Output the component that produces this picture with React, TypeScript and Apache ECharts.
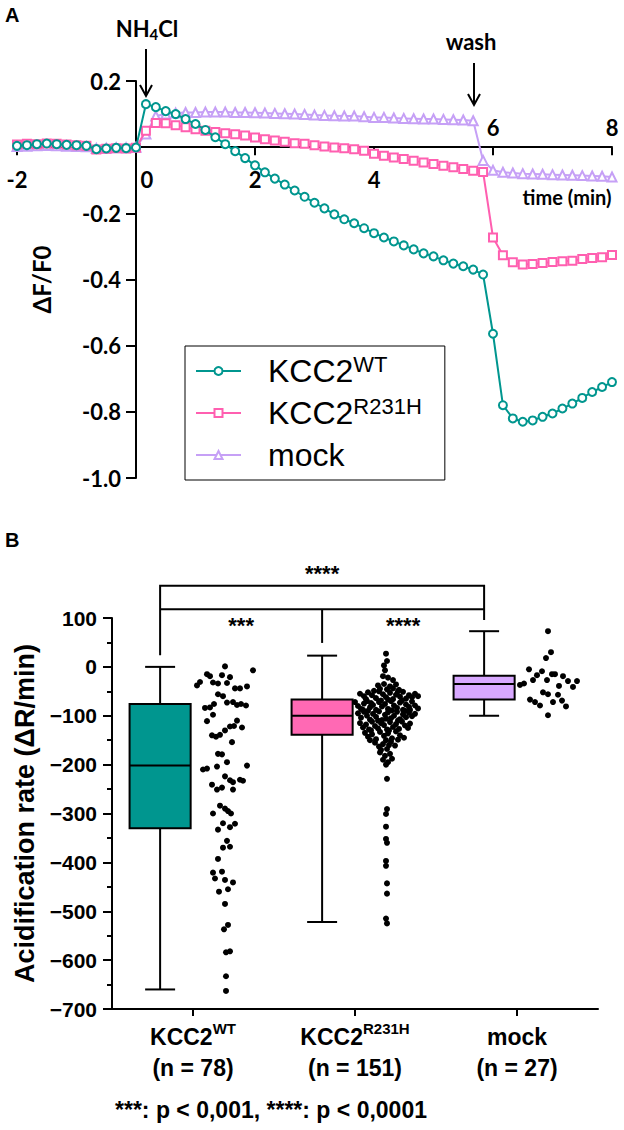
import React, { useEffect, useRef } from "react";
import * as echarts from "echarts";

// ---------------- Panel A data ----------------
const timeSeconds = [-120, -110, -100, -90, -80, -70, -60, -50, -40, -30, -20, -10, 0, 10, 20, 30, 40, 50, 60, 70, 80, 90, 100, 110, 120, 130, 140, 150, 160, 170, 180, 190, 200, 210, 220, 230, 240, 250, 260, 270, 280, 290, 300, 310, 320, 330, 340, 350, 360, 370, 380, 390, 400, 410, 420, 430, 440, 450, 460, 470, 480];

const wtTrace = [0.004, 0.006, 0.009, 0.011, 0.009, 0.007, 0.006, 0.004, -0.006, -0.004, -0.002, -0.003,
  -0.001,
  0.13, 0.121, 0.109, 0.10, 0.085, 0.07, 0.052, 0.03, 0.009, -0.012, -0.033, -0.055, -0.076, -0.095, -0.113, -0.131, -0.15, -0.168, -0.185, -0.203, -0.218, -0.23, -0.245, -0.26, -0.273, -0.285, -0.297, -0.309, -0.321, -0.33, -0.342, -0.352, -0.36, -0.37, -0.385,
  -0.564, -0.78, -0.82, -0.83, -0.826, -0.815, -0.805, -0.79, -0.775, -0.758, -0.74, -0.725, -0.71];

const r231hTrace = [0.008, 0.01, 0.009, 0.011, 0.01, 0.008, 0.006, 0.004, -0.007, -0.005, -0.003, -0.004,
  -0.002,
  0.05, 0.073, 0.072, 0.066, 0.06, 0.054, 0.05, 0.046, 0.042, 0.039, 0.035, 0.029, 0.024, 0.02, 0.016, 0.012, 0.01, 0.006, 0.002, -0.001, -0.003, -0.006, -0.011, -0.02, -0.026, -0.031, -0.036, -0.041, -0.046, -0.051, -0.056, -0.061, -0.066, -0.071, -0.075,
  -0.273, -0.327, -0.348, -0.355, -0.353, -0.35, -0.347, -0.345, -0.343, -0.338, -0.335, -0.333, -0.326];

const mockTrace = [0.002, 0.003, 0.004, 0.005, 0.004, 0.003, 0.002, 0.001, -0.004, -0.003, -0.002, -0.002,
  0,
  0.04, 0.094, 0.1, 0.103, 0.105, 0.105, 0.106, 0.106, 0.106, 0.105, 0.105, 0.104, 0.103, 0.102, 0.101, 0.1, 0.099, 0.097, 0.096, 0.095, 0.094, 0.094, 0.092, 0.09, 0.09, 0.088, 0.087, 0.086, 0.085, 0.085, 0.084, 0.083, 0.082, 0.08,
  -0.04,
  -0.07, -0.076, -0.078, -0.08, -0.081, -0.082, -0.083, -0.084, -0.085, -0.086, -0.087, -0.088, -0.09];

const seriesNames = ["KCC2WT", "KCC2R231H", "mock"];

// ---------------- Panel B data ----------------
const groupNames = ["KCC2WT", "KCC2R231H", "mock"];
const groupN = [78, 151, 27];
// [whisker low, Q1, median, Q3, whisker high]
const wtBox = [-660, -330, -202, -76, 0];
const r231hBox = [-522, -139, -100, -67, 23];
const mockBox = [-100, -67, -35, -18, 73];

const wtDotValues = [1, -7, -15, -19, -17, -21, -31, -32, -34, -33, -44, -44, -40, -38, -56, -60, -84, -83, -76, -73, -72, -78, -76, -79, -111, -122, -121, -110, -124, -130, -140, -143, -139, -154, -178, -179, -195, -210, -208, -204, -202, -224, -232, -236, -231, -233, -241, -251, -247, -251, -284, -290, -295, -300, -300, -320, -321, -328, -333, -356, -370, -368, -393, -421, -419, -433, -436, -441, -455, -485, -528, -537, -584, -633, -663, -460, -582, -98];
const wtDotSpread = [32, 60, 14, 17, 29, 37, 7, 20, 25, 34, 42, 47, 54, 4, 25, 30, 12, 17, 21, 34, 40, 44, 48, 53, 14, 37, 41, 44, 49, 32, 19, 23, 27, 39, 25, 29, 34, 10, 14, 24, 54, 32, 37, 40, 47, 50, 19, 24, 29, 40, 27, 32, 35, 38, 20, 30, 42, 37, 25, 34, 30, 37, 25, 20, 29, 22, 32, 40, 35, 32, 35, 31, 33, 33, 33, 26, 37, 20];

const r231hDotValues = [27, 12, 3, -7, -19, -22, -27, -38, -35, -40, -36, -45, -46, -44, -47,
  -55, -60, -52, -58, -64, -50, -56, -62, -53, -66, -57, -61, -51, -65, -58, -62, -55, -60, -66, -49, -50, -67,
  -72, -80, -86, -75, -70, -83, -78, -88, -72, -81, -76, -86, -70, -79, -84, -73, -88, -77, -82, -71, -79, -85, -88, -69, -89, -69, -88, -74,
  -95, -104, -92, -100, -108, -96, -102, -91, -109, -98, -93, -105, -100, -92, -107, -97, -103, -94, -101, -96, -90, -106, -110, -110, -90,
  -115, -124, -118, -128, -112, -121, -126, -115, -119, -128, -113, -123, -117, -127, -112, -120, -125, -116, -130, -130,
  -135, -143, -138, -148, -133, -141, -136, -146, -132, -140, -145, -150, -150, -149,
  -155, -163, -158, -168, -153, -161, -170, -160,
  -175, -182, -178, -190, -195, -188, -200,
  -229, -291, -301, -327, -352, -360, -397, -407, -443, -464, -515, -525];
const r231hDotSpread = [31, 32, 29, 30, 28, 33, 38, 23, 29, 35, 41, 25, 32, 38, 44,
  5, 9, 13, 17, 21, 24, 28, 31, 35, 38, 41, 45, 48, 51, 54, 57, 60, 63, 11, 19, 43, 33,
  0, 3, 6, 9, 12, 15, 18, 21, 24, 27, 30, 33, 36, 39, 42, 45, 48, 51, 54, 57, 60, 63, 8, 26, 37, 47, 55, 16,
  3, 6, 9, 12, 15, 18, 21, 24, 27, 30, 33, 36, 39, 42, 45, 48, 51, 54, 57, 60, 13, 31, 43, 23, 50,
  5, 8, 11, 14, 17, 20, 23, 26, 29, 32, 35, 38, 41, 44, 47, 50, 53, 55, 16, 34,
  10, 13, 17, 21, 25, 29, 33, 37, 41, 45, 49, 15, 31, 43,
  20, 24, 28, 32, 36, 40, 26, 34,
  25, 30, 35, 28, 33, 37, 31,
  32, 32, 31, 31, 31, 32, 31, 31, 32, 32, 31, 32];

const mockDotValues = [73, 30, 18, -5, -9, -17, -27, -27, -15, -15, -19, -29, -29, -37, -34, -39, -41, -52, -56, -57, -67, -72, -72, -79, -69, -81, -99];
const mockDotSpread = [31, 34, 29, 12, 25, 20, 16, 30, 35, 38, 46, 51, 60, 3, 7, 42, 56, 26, 31, 41, 13, 18, 36, 23, 45, 49, 31];

// significance brackets (data units of the acidification-rate axis)
const bracketLevels = [166, 118];
const bracketLegEnds = [24, 49, 96];
const sigMarks = ["****", "***", "****"];
const sigMarkLevels = [192, 84, 84];

// ---------------- layout / styling constants ----------------
const A_LEFT = 17, A_TOP = 81, A_W = 595, A_H = 397;
const X_MIN = -2, X_MAX = 8, Y_MIN = -1, Y_MAX = 0.2;
const X0_PX = A_LEFT + (A_W * (0 - X_MIN)) / (X_MAX - X_MIN); // where time 0 sits
const Y0_PX = A_TOP + (A_H * (Y_MAX - 0)) / (Y_MAX - Y_MIN); // where ΔF/F0 = 0 sits

const TEAL = "#00968f";
const PINK = "#ff5fb0";
const LAV = "#c6a0f6";
const BOX_COLORS = ["#00968f", "#ff69b4", "#d8a8ff"];
const BAND_PX = 162; // spread values are in px of one category band
const BOX_SHIFT = -0.203;
const BOX_WIDTH = 0.377;
const CAP_WIDTH = 0.185;

const latoBold = { fontFamily: "Lato", fontWeight: "bold" as const, color: "#000" };
const arialBold = { fontFamily: "Liberation Sans", fontWeight: "bold" as const, color: "#000" };
const blackLine = { color: "#000", width: 2 };
const hiddenAxis = (gridIndex: number) => ({
  gridIndex, type: "value", min: 0, max: 1, show: false,
  axisLine: { show: false, onZero: false }, axisTick: { show: false }, axisLabel: { show: false }, splitLine: { show: false },
});

function App() {
  const ref = useRef<HTMLDivElement>(null);

  useEffect(() => {
    document.body.style.margin = "0";
    if (!ref.current) return;
    const chart = echarts.init(ref.current, undefined, { renderer: "svg" });

    const toMin = (s: number) => s / 60;
    const lineData = (tr: number[]) => timeSeconds.map((s, i) => [toMin(s), tr[i]]);
    const dots = (vals: number[], spread: number[], gi: number) =>
      vals.map((v, i) => [gi + spread[i] / BAND_PX, v]);
    const boxes = [wtBox, r231hBox, mockBox];

    const option: any = {
      animation: false,
      backgroundColor: "#fff",
      grid: [
        // 0: panel A data
        { left: A_LEFT, top: A_TOP, width: A_W, height: A_H, containLabel: false, outerBoundsMode: "none" },
        // 1: panel A y-axis (crossing at time 0)
        { left: X0_PX, top: A_TOP, width: 10, height: A_H, containLabel: false, outerBoundsMode: "none" },
        // 2: panel A x-axis (crossing at ΔF/F0 = 0)
        { left: A_LEFT, top: A_TOP, width: A_W, height: Y0_PX - A_TOP, containLabel: false, outerBoundsMode: "none" },
        // 3: panel B
        { left: 112, top: 618, width: 486, height: 391, containLabel: false, outerBoundsMode: "none" },
      ],
      legend: {
        data: seriesNames,
        orient: "vertical",
        left: 185,
        top: 346,
        padding: [7, 23, 7, 10],
        itemWidth: 45,
        itemHeight: 10,
        itemGap: 6,
        borderColor: "#000",
        borderWidth: 1,
        selectedMode: false,
        formatter: (name: string) =>
          name === "KCC2WT" ? "{m|KCC2}{s|WT}" : name === "KCC2R231H" ? "{m|KCC2}{s|R231H}" : "{m|mock}",
        textStyle: {
          fontFamily: "Liberation Sans",
          fontSize: 32,
          color: "#000",
          lineHeight: 36,
          rich: {
            m: { fontFamily: "Liberation Sans", fontSize: 32, lineHeight: 36, color: "#000", padding: [0, 0, 0, 22] },
            s: { fontFamily: "Liberation Sans", fontSize: 22, lineHeight: 22, verticalAlign: "top", color: "#000" },
          },
        },
      },
      xAxis: [
        // 0: data x axis of panel A (hidden)
        { gridIndex: 0, type: "value", min: X_MIN, max: X_MAX, show: false, axisLine: { show: false, onZero: false }, splitLine: { show: false } },
        // 1: hidden, grid 1
        hiddenAxis(1),
        // 2: visible time axis, labels below
        {
          gridIndex: 2, type: "value", position: "bottom", min: X_MIN, max: X_MAX, interval: 2,
          axisLine: { show: true, onZero: false, lineStyle: blackLine },
          axisTick: { show: true, length: 8, lineStyle: blackLine },
          axisLabel: {
            ...latoBold, fontSize: 22, margin: 21,
            formatter: (v: number) => (v >= 6 ? "" : v === 0 ? "{z|0}" : String(v)),
            rich: { z: { ...latoBold, fontSize: 22, padding: [0, 0, 0, 22] } },
          },
          splitLine: { show: false },
        },
        // 3: time axis labels drawn above the line (6, 8)
        {
          gridIndex: 2, type: "value", position: "bottom", min: X_MIN, max: X_MAX, interval: 2,
          axisLine: { show: false, onZero: false },
          axisTick: { show: false },
          axisLabel: { ...latoBold, fontSize: 22, inside: true, margin: 9, formatter: (v: number) => (v >= 6 ? String(v) : "") },
          splitLine: { show: false },
        },
        // 4: panel B value x axis (hidden, positions marks)
        { gridIndex: 3, type: "value", min: -0.5, max: 2.5, show: false, axisLine: { show: false, onZero: false }, splitLine: { show: false } },
        // 5: panel B category axis
        {
          gridIndex: 3, type: "category", position: "bottom", data: groupNames, boundaryGap: true,
          axisLine: { show: true, onZero: false, lineStyle: blackLine },
          axisTick: { show: true, alignWithLabel: true, length: 7, lineStyle: blackLine },
          axisLabel: {
            ...arialBold, fontSize: 23, margin: 12, interval: 0,
            formatter: (name: string, idx: number) => {
              const n = groupN[idx];
              if (name === "KCC2WT") return `{b|KCC2}{s|WT}\n{b|(n = ${n})}`;
              if (name === "KCC2R231H") return `{b|KCC2}{s|R231H}\n{b|(n = ${n})}`;
              return `{b|${name}}\n{b|(n = ${n})}`;
            },
            rich: {
              b: { ...arialBold, fontSize: 23, lineHeight: 31 },
              s: { ...arialBold, fontSize: 15, lineHeight: 24, verticalAlign: "top" },
            },
          },
          splitLine: { show: false },
        },
      ],
      yAxis: [
        // 0: data y axis of panel A (hidden)
        { gridIndex: 0, type: "value", min: Y_MIN, max: Y_MAX, show: false, axisLine: { show: false, onZero: false }, splitLine: { show: false } },
        // 1: visible ΔF/F0 axis at time 0
        {
          gridIndex: 1, type: "value", position: "left", min: Y_MIN, max: Y_MAX, interval: 0.2,
          axisLine: { show: true, onZero: false, lineStyle: blackLine },
          axisTick: { show: true, length: 10, lineStyle: blackLine },
          axisLabel: {
            ...latoBold, fontSize: 22, margin: 15,
            formatter: (v: number) => (Math.abs(v) < 1e-6 ? "" : v.toFixed(1)),
          },
          splitLine: { show: false },
          name: "ΔF/F0", nameLocation: "middle", nameGap: 83,
          nameTextStyle: { ...latoBold, fontSize: 24 },
        },
        // 2: hidden, grid 2
        hiddenAxis(2),
        // 3: panel B y axis
        {
          gridIndex: 3, type: "value", min: -700, max: 100, interval: 100,
          axisLine: { show: true, onZero: false, lineStyle: blackLine },
          axisTick: { show: true, length: 9, lineStyle: blackLine },
          minorTick: { show: true, splitNumber: 2, length: 5, lineStyle: blackLine },
          axisLabel: {
            ...arialBold, fontSize: 21, margin: 15,
            formatter: (v: number) => (v < 0 ? "\u2212" + Math.abs(v) : String(v)),
          },
          splitLine: { show: false },
          minorSplitLine: { show: false },
          name: "Acidification rate (ΔR/min)", nameLocation: "middle", nameGap: 74,
          nameTextStyle: { ...arialBold, fontSize: 27 },
        },
      ],
      series: [
        {
          name: "mock", type: "line", xAxisIndex: 0, yAxisIndex: 0, data: lineData(mockTrace),
          symbol: "emptyTriangle", symbolSize: 9, lineStyle: { color: LAV, width: 2 },
          itemStyle: { color: LAV, borderWidth: 2 }, z: 3,
        },
        {
          name: "KCC2R231H", type: "line", xAxisIndex: 0, yAxisIndex: 0, data: lineData(r231hTrace),
          symbol: "emptyRect", symbolSize: 8, lineStyle: { color: PINK, width: 2 },
          itemStyle: { color: PINK, borderWidth: 2 }, z: 4,
        },
        {
          name: "KCC2WT", type: "line", xAxisIndex: 0, yAxisIndex: 0, data: lineData(wtTrace),
          symbol: "emptyCircle", symbolSize: 8, lineStyle: { color: TEAL, width: 2 },
          itemStyle: { color: TEAL, borderWidth: 2 }, z: 5,
        },
        {
          type: "custom", xAxisIndex: 4, yAxisIndex: 3, clip: false,
          data: boxes.map((b, i) => ({ value: [i + BOX_SHIFT, ...b], itemStyle: { color: BOX_COLORS[i] } })),
          encode: { x: 0, y: [1, 2, 3, 4, 5] },
          renderItem: (params: any, api: any) => {
            const x = api.value(0);
            const p = (v: number) => api.coord([x, v]);
            const lo = p(api.value(1)), q1 = p(api.value(2)), md = p(api.value(3)), q3 = p(api.value(4)), hi = p(api.value(5));
            const half = api.size([BOX_WIDTH, 0])[0] / 2;
            const cap = api.size([CAP_WIDTH, 0])[0] / 2;
            const cx = lo[0];
            const st = { stroke: "#000", lineWidth: 2 };
            return {
              type: "group",
              children: [
                { type: "line", shape: { x1: cx, y1: q3[1], x2: cx, y2: hi[1] }, style: st },
                { type: "line", shape: { x1: cx - cap, y1: hi[1], x2: cx + cap, y2: hi[1] }, style: st },
                { type: "line", shape: { x1: cx, y1: q1[1], x2: cx, y2: lo[1] }, style: st },
                { type: "line", shape: { x1: cx - cap, y1: lo[1], x2: cx + cap, y2: lo[1] }, style: st },
                { type: "rect", shape: { x: cx - half, y: q3[1], width: 2 * half, height: q1[1] - q3[1] }, style: { fill: api.visual("color"), stroke: "#000", lineWidth: 2 } },
                { type: "line", shape: { x1: cx - half, y1: md[1], x2: cx + half, y2: md[1] }, style: st },
              ],
            };
          },
        },
        { type: "scatter", xAxisIndex: 4, yAxisIndex: 3, symbolSize: 6, itemStyle: { color: "#000", opacity: 1 }, data: dots(wtDotValues, wtDotSpread, 0) },
        { type: "scatter", xAxisIndex: 4, yAxisIndex: 3, symbolSize: 6, itemStyle: { color: "#000", opacity: 1 }, data: dots(r231hDotValues, r231hDotSpread, 1) },
        { type: "scatter", xAxisIndex: 4, yAxisIndex: 3, symbolSize: 6, itemStyle: { color: "#000", opacity: 1 }, data: dots(mockDotValues, mockDotSpread, 2) },
        {
          type: "custom", xAxisIndex: 4, yAxisIndex: 3, clip: false, silent: true,
          data: [[0, 0]], encode: { x: 0, y: 1 },
          renderItem: (params: any, api: any) => {
            const xs = [0, 1, 2].map((i) => i + BOX_SHIFT);
            const c = (x: number, y: number) => api.coord([x, y]);
            const st = { stroke: "#000", lineWidth: 2, fill: "none" };
            const top = [c(xs[0], bracketLegEnds[0]), c(xs[0], bracketLevels[0]), c(xs[2], bracketLevels[0]), c(xs[2], bracketLegEnds[2])];
            const low0 = c(xs[0], bracketLevels[1]);
            const low2 = c(xs[2], bracketLevels[1]);
            const mid1 = c(xs[1], bracketLevels[1]);
            const mid1b = c(xs[1], bracketLegEnds[1]);
            const markPos = [
              c((xs[0] + xs[2]) / 2, sigMarkLevels[0]),
              c((xs[0] + xs[1]) / 2, sigMarkLevels[1]),
              c((xs[1] + xs[2]) / 2, sigMarkLevels[2]),
            ];
            return {
              type: "group",
              children: [
                { type: "polyline", shape: { points: top }, style: st },
                { type: "line", shape: { x1: low0[0], y1: low0[1], x2: low2[0], y2: low2[1] }, style: st },
                { type: "line", shape: { x1: mid1[0], y1: mid1[1], x2: mid1b[0], y2: mid1b[1] }, style: st },
                ...markPos.map((m, i) => ({
                  type: "text", x: m[0], y: m[1],
                  style: { text: sigMarks[i], textAlign: "center", textVerticalAlign: "middle", fontFamily: "Liberation Sans", fontWeight: "bold", fontSize: 22, fill: "#000" },
                })),
              ],
            };
          },
        },
      ],
      graphic: [
        { type: "text", left: 5, top: 5, style: { text: "A", fontFamily: "Liberation Sans", fontWeight: "bold", fontSize: 20, fill: "#000" } },
        { type: "text", left: 5, top: 530, style: { text: "B", fontFamily: "Liberation Sans", fontWeight: "bold", fontSize: 20, fill: "#000" } },
        {
          type: "text", x: 147, y: 28,
          style: {
            text: "NH{s|4}Cl", fontFamily: "Lato", fontWeight: "bold", fontSize: 22, lineHeight: 26, fill: "#000",
            textAlign: "center", textVerticalAlign: "middle",
            rich: { s: { fontFamily: "Lato", fontWeight: "bold", fontSize: 15, lineHeight: 15, verticalAlign: "bottom", fill: "#000" } },
          },
        },
        { type: "line", shape: { x1: 146, y1: 49, x2: 146, y2: 95 }, style: { stroke: "#000", lineWidth: 2 } },
        { type: "polyline", shape: { points: [[140, 85], [146, 96], [152, 85]] }, style: { stroke: "#000", lineWidth: 2, fill: "none" } },
        {
          type: "text", x: 471, y: 41,
          style: { text: "wash", fontFamily: "Lato", fontWeight: "bold", fontSize: 22, fill: "#000", textAlign: "center", textVerticalAlign: "middle" },
        },
        { type: "line", shape: { x1: 474, y1: 63, x2: 474, y2: 104 }, style: { stroke: "#000", lineWidth: 2 } },
        { type: "polyline", shape: { points: [[468, 94], [474, 105], [480, 94]] }, style: { stroke: "#000", lineWidth: 2, fill: "none" } },
        {
          type: "text", x: 567, y: 197,
          style: { text: "time (min)", fontFamily: "Lato", fontWeight: "bold", fontSize: 20, fill: "#000", textAlign: "center", textVerticalAlign: "middle" },
        },
        {
          type: "text", x: 271, y: 1110,
          style: { text: "***: p < 0,001, ****: p < 0,0001", fontFamily: "Liberation Sans", fontWeight: "bold", fontSize: 23, fill: "#000", textAlign: "center", textVerticalAlign: "middle" },
        },
      ],
    };

    chart.setOption(option);
    return () => chart.dispose();
  }, []);

  return <div ref={ref} style={{ width: 624, height: 1130 }} />;
}

export default App;
